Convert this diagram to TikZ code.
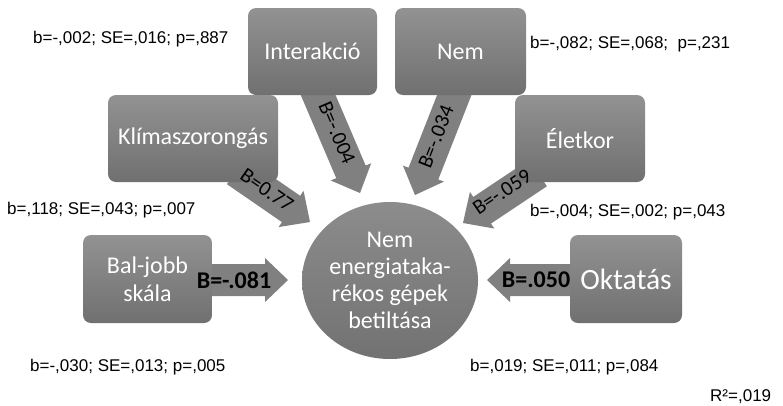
\documentclass[tikz,border=0pt]{standalone}
\usepackage{fontspec}
\setmainfont{Carlito}
\newfontfamily\arialf{Liberation Sans}
\usetikzlibrary{calc,shapes.geometric}
\definecolor{boxtop}{RGB}{146,146,146}
\definecolor{boxbot}{RGB}{112,112,112}
\definecolor{arrowgray}{RGB}{128,128,128}
\definecolor{elltop}{RGB}{140,140,140}
\definecolor{ellbot}{RGB}{114,114,114}
\pgfdeclarelayer{bg}
\pgfsetlayers{bg,main}
\newcommand{\blockarrow}[2]{%
  \path ($(#2)!23pt!(#1)$) coordinate (hb);
  \fill[arrowgray] ($(#1)!16pt!90:(#2)$) -- ($(hb)!16pt!90:(#2)$) -- ($(hb)!22pt!90:(#2)$) -- (#2) -- ($(hb)!22pt!-90:(#2)$) -- ($(hb)!16pt!-90:(#2)$) -- ($(#1)!16pt!-90:(#2)$) -- cycle;}
\begin{document}
\begin{tikzpicture}[x=1pt,y=-1pt,
  box/.style={draw=none, rectangle, rounded corners=8pt, top color=boxtop, bottom color=boxbot, text=white, font=\fontsize{24}{28}\selectfont, align=center, inner sep=0pt},
  ann/.style={font=\arialf\fontsize{17}{20}\selectfont, anchor=west, inner sep=0pt},
  blab/.style={font=\bfseries\fontsize{24}{28}\selectfont, inner sep=0pt},
  dlab/.style={font=\fontsize{21}{24}\selectfont, inner sep=0pt}]
\useasboundingbox (0,0) rectangle (783,405);

% boxes
\node[box, minimum width=129pt, minimum height=87pt] (inter) at (312.5,51.5) {Interakció};
\node[box, minimum width=131pt, minimum height=87pt] (nem) at (460.5,51.5) {Nem};
\node[box, minimum width=170pt, minimum height=87pt] (klima) at (193,138.5) {Klímaszorongás};
\node[box, minimum width=130pt, minimum height=87pt] (elet) at (580,138.5) {Életkor};
\node[box, minimum width=129pt, minimum height=88pt] (bal) at (147.5,279) {Bal-jobb\\skála};
\node[box, minimum width=112pt, minimum height=88pt, font=\fontsize{29.5}{32}\selectfont] (okt) at (626,279) {Oktatás};

% central ellipse
\node[ellipse, minimum width=176pt, minimum height=157pt, inner sep=0pt, top color=elltop, bottom color=ellbot, text=white, align=center, font=\fontsize{24}{27}\selectfont] (ell) at (390,280.5) {Nem\\energiataka-\\rékos gépek\\betiltása};

% arrow ends
\coordinate (tailK) at ($(klima.center)+(43,32.5)$);
\coordinate (tailI) at ($(inter.center)+(0.5,31.5)$);
\coordinate (tailN) at ($(nem.center)+(-1.5,31.5)$);
\coordinate (tailE) at ($(elet.center)+(-42,34.5)$);
\coordinate (tailB) at ($(bal.center)+(52.5,1)$);
\coordinate (tailO) at ($(okt.center)+(-46,1)$);
\coordinate (tipK) at (310,222);
\coordinate (tipI) at (360,193);
\coordinate (tipN) at (415,195);
\coordinate (tipE) at (463,223);
\coordinate (tipB) at (288,280);
\coordinate (tipO) at (487,280);

\begin{pgfonlayer}{bg}
\fill[white] (0,0) rectangle (783,405);
\blockarrow{tailK}{tipK}
\blockarrow{tailI}{tipI}
\blockarrow{tailN}{tipN}
\blockarrow{tailE}{tipE}
\blockarrow{tailB}{tipB}
\blockarrow{tailO}{tipO}
\end{pgfonlayer}

% arrow labels
\node[dlab, rotate=-34.5] (lK) at (267,190) {B=0.77};
\node[dlab, rotate=-67] (lI) at (337,133) {B=-.004};
\node[dlab, rotate=68.5] (lN) at (436,137) {B=-.034};
\node[dlab, rotate=34] (lE) at (502,192) {B=-.059};
\node[blab] (lB) at (234,280) {B=-.081};
\node[blab] (lO) at (536,280) {B=.050};

% annotations
\node[ann] (a1) at (33,39) {b=-,002; SE=,016; p=,887};
\node[ann] (a2) at (530,44) {b=-,082; SE=,068;\ \ p=,231};
\node[ann] (a3) at (7,210) {b=,118; SE=,043; p=,007};
\node[ann] (a4) at (530,212) {b=-,004; SE=,002; p=,043};
\node[ann] (a5) at (30,367) {b=-,030; SE=,013; p=,005};
\node[ann] (a6) at (470,367) {b=,019; SE=,011; p=,084};
\node[ann] (r2) at (710,397) {R²=,019};
\end{tikzpicture}
\end{document}
